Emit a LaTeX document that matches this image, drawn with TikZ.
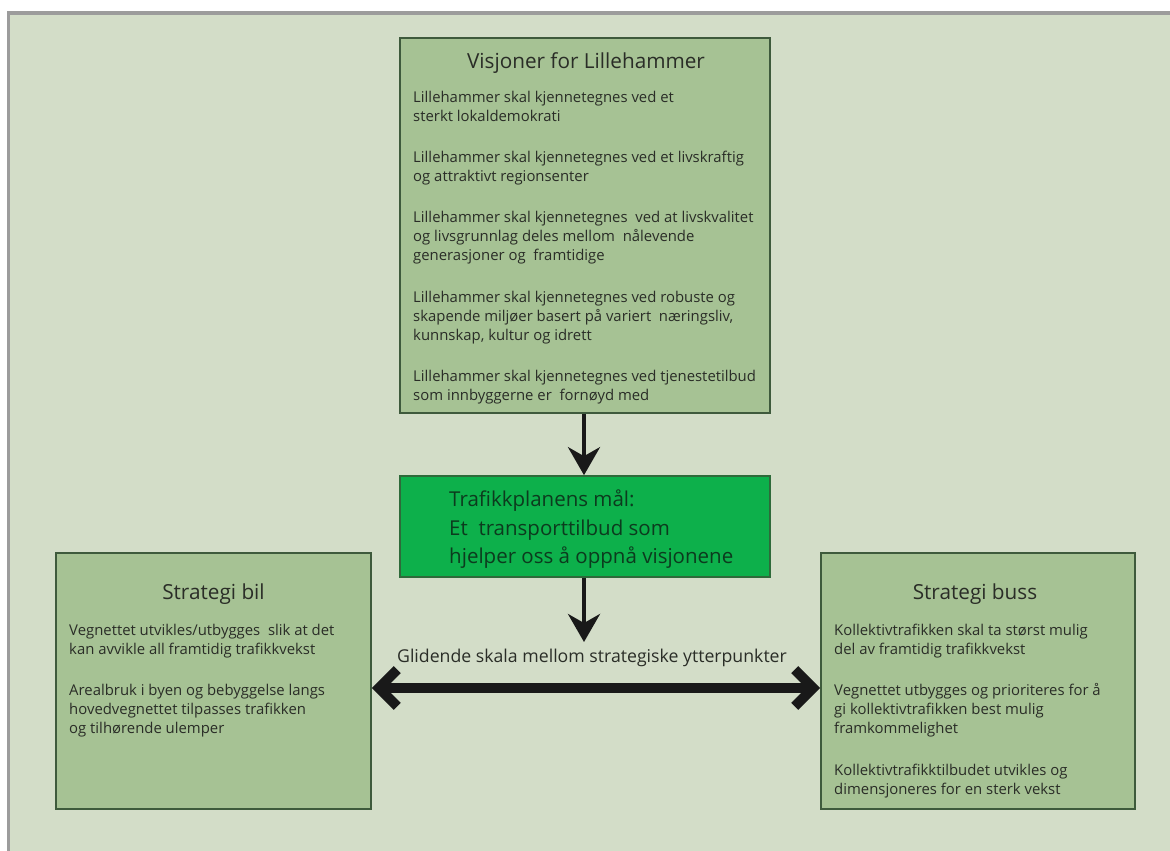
\documentclass[tikz,border=0pt]{standalone}
\usepackage{fontspec}
\setmainfont{Open Sans}
\usepackage{tikz}
\usetikzlibrary{arrows.meta}

\definecolor{bakgrunn}{HTML}{D3DDC8}
\definecolor{ramme}{HTML}{9C9C9C}
\definecolor{boksfyll}{HTML}{A6C294}
\definecolor{boksstrek}{HTML}{3E5A3C}
\definecolor{malfyll}{HTML}{0DB04B}
\definecolor{malstrek}{HTML}{2E6A3A}
\definecolor{maltekstfarge}{HTML}{0C3B1E}
\definecolor{tekst}{HTML}{2A2D27}

% extra space between the paragraphs in a box
\newcommand{\avsnitt}{\\[0.675cm]}

\begin{document}
\begin{tikzpicture}[x=0.03cm, y=-0.03cm,
    boks/.style={draw=boksstrek, fill=boksfyll, line width=0.05cm, inner sep=0pt},
    malboks/.style={draw=malstrek, fill=malfyll, line width=0.05cm, inner sep=0pt},
    tittel/.style={text=tekst, inner sep=0pt, font=\fontsize{17.7pt}{20pt}\selectfont},
    brodtekst/.style={text=tekst, inner sep=0pt, align=left, font=\fontsize{12.7pt}{16.2pt}\selectfont},
    maltekst/.style={text=maltekstfarge, inner sep=0pt, align=left, font=\fontsize{17.5pt}{24.3pt}\selectfont},
    pil/.style={draw=black!90, line width=0.12cm, -{Stealth[length=0.84cm, width=0.96cm, inset=0.27cm]}},
    dobbelpil/.style={draw=black!90, line width=0.3cm,
        {Straight Barb[length=0.55cm, width=1.1cm]}-{Straight Barb[length=0.55cm, width=1.1cm]}}]

    % --- PAGE AND BACKGROUND ---
    \useasboundingbox (0,0) rectangle (1170,851);
    \fill[white] (0,0) rectangle (1170,851);
    \fill[ramme] (7,11) rectangle (1170,851);
    \fill[bakgrunn] (10,15) rectangle (1170,851);

    % --- VISIONS BOX (TOP) ---
    \node[boks, minimum width=11.1cm, minimum height=11.25cm] (visjoner) at (585,225.5) {};
    \node[tittel, anchor=base] (vistittel) at (586,69) {Visjoner for Lillehammer};
    \node[brodtekst, anchor=north west] (vistekst) at (413,90.5) {%
        Lillehammer skal kjennetegnes ved et\\
        sterkt lokaldemokrati\avsnitt
        Lillehammer skal kjennetegnes ved et livskraftig\\
        og attraktivt regionsenter\avsnitt
        Lillehammer skal kjennetegnes\ \ ved at livskvalitet\\
        og livsgrunnlag deles mellom\ \ nålevende\\
        generasjoner og\ \ framtidige\avsnitt
        Lillehammer skal kjennetegnes ved robuste og\\
        skapende miljøer basert på variert\ \ næringsliv,\\
        kunnskap, kultur og idrett\avsnitt
        Lillehammer skal kjennetegnes ved tjenestetilbud\\
        som innbyggerne er\ \ fornøyd med};

    % --- TRAFFIC PLAN GOAL (MIDDLE) ---
    \node[malboks, minimum width=11.1cm, minimum height=3.03cm] (mal) at (585,526.5) {};
    \node[maltekst, anchor=north west] (maltekst) at (449,490) {%
        Trafikkplanens mål:\\
        Et\ \ transporttilbud som\\
        hjelper oss å oppnå visjonene};

    % --- STRATEGY BOXES (BOTTOM LEFT AND RIGHT) ---
    \node[boks, minimum width=9.45cm, minimum height=7.68cm] (bil) at (213.5,681) {};
    \node[tittel, anchor=base] (biltittel) at (213.5,599) {Strategi bil};
    \node[brodtekst, anchor=north west] (biltekst) at (69,623.5) {%
        Vegnettet utvikles/utbygges\ \ slik at det\\
        kan avvikle all framtidig trafikkvekst\avsnitt
        Arealbruk i byen og bebyggelse langs\\
        hovedvegnettet tilpasses trafikken\\
        og tilhørende ulemper};

    \node[boks, minimum width=9.42cm, minimum height=7.68cm] (buss) at (978,681) {};
    \node[tittel, anchor=base] (busstittel) at (975,599) {Strategi buss};
    \node[brodtekst, anchor=north west] (busstekst) at (834,623.5) {%
        Kollektivtrafikken skal ta størst mulig\\
        del av framtidig trafikkvekst\avsnitt
        Vegnettet utbygges og prioriteres for å\\
        gi kollektivtrafikken best mulig\\
        framkommelighet\avsnitt
        Kollektivtrafikktilbudet utvikles og\\
        dimensjoneres for en sterk vekst};

    % --- SLIDING SCALE ---
    \node[tittel, anchor=base, font=\fontsize{15.1pt}{18pt}\selectfont] (skala) at (592,662)
        {Glidende skala mellom strategiske ytterpunkter};
    \coordinate (pilende) at (584,642);
    \coordinate (skalamidt) at (584,688);

    % --- ARROWS ---
    \draw[pil] (visjoner.south -| pilende) -- (mal.north -| pilende);
    \draw[pil] (mal.south -| pilende) -- (pilende);
    \draw[dobbelpil] (bil.east |- skalamidt) -- (buss.west |- skalamidt);

\end{tikzpicture}
\end{document}
